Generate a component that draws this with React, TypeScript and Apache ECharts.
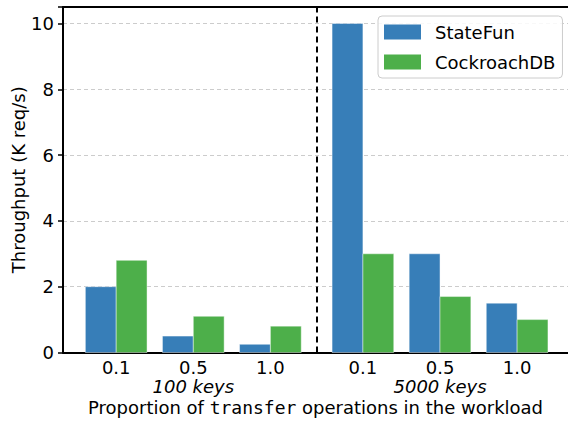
import React, { useEffect, useRef } from "react";
import * as echarts from "echarts";

const positions = [0, 1, 2, 3.2, 4.2, 5.2];
const tickLabels = ["0.1", "0.5", "1.0", "0.1", "0.5", "1.0"];
const groupLabels = ["", "100 keys", "", "", "5000 keys", ""];
const stateFun = [2.0, 0.5, 0.25, 10.0, 3.0, 1.5];
const cockroach = [2.8, 1.1, 0.8, 3.0, 1.7, 1.0];
const seriesNames = ["StateFun", "CockroachDB"];
const seriesColors = ["#377eb8", "#4daf4a"];
const separatorX = 2.6;
const barW = 0.4;

export default function App() {
  const ref = useRef<HTMLDivElement>(null);
  useEffect(() => {
    if (!ref.current) return;
    const chart = echarts.init(ref.current, null, { renderer: "svg" });
    const font = "DejaVu Sans";
    const fs = 18;
    const labelFor = (v: number) => {
      let best = 0;
      positions.forEach((p, i) => {
        if (Math.abs(p - v) < Math.abs(positions[best] - v)) best = i;
      });
      const g = groupLabels[best];
      return g ? `${tickLabels[best]}\n{it|${g}}` : tickLabels[best];
    };
    const makeBars = (name: string, values: number[], color: string, offset: number) => ({
      name,
      type: "custom",
      xAxisIndex: 0,
      itemStyle: { color },
      encode: { x: 0, y: 1 },
      data: positions.map((p, i) => [p, values[i]]),
      renderItem: (_params: any, api: any) => {
        const x = api.value(0);
        const y = api.value(1);
        const tl = api.coord([x + offset, y]);
        const br = api.coord([x + offset + barW, 0]);
        return {
          type: "rect",
          shape: { x: tl[0], y: tl[1], width: br[0] - tl[0], height: br[1] - tl[1] },
          style: { fill: color, stroke: "rgba(255,255,255,0.55)", lineWidth: 0.8 },
        };
      },
    });
    chart.setOption({
      animation: false,
      textStyle: { fontFamily: font },
      grid: { left: 63, right: 0, top: 7, bottom: 70.5, containLabel: false, outerBoundsMode: "none" },
      legend: {
        orient: "vertical",
        left: 378,
        top: 16,
        padding: [7, 7, 7, 6],
        itemWidth: 37,
        itemHeight: 15,
        itemGap: 12,
        borderColor: "#cccccc",
        borderWidth: 1,
        borderRadius: 4,
        backgroundColor: "rgba(255,255,255,0.85)",
        icon: "rect",
        textStyle: { fontSize: fs, color: "#000", fontFamily: font, padding: [0, 0, 0, 9], lineHeight: 15 },
        data: seriesNames.map((n, i) => ({ name: n, itemStyle: { color: seriesColors[i] } })),
      },
      xAxis: [
        {
          type: "value",
          min: -0.69,
          max: 5.86,
          axisLine: { show: true, onZero: false, lineStyle: { color: "#000", width: 2 } },
          axisTick: { show: false },
          splitLine: { show: false },
          axisLabel: {
            customValues: positions,
            formatter: (v: number) => labelFor(v),
            fontSize: fs,
            color: "#000",
            lineHeight: 19,
            margin: 5,
            fontFamily: font,
            rich: {
              it: { fontStyle: "italic", fontSize: fs, color: "#000", lineHeight: 19, fontFamily: font },
            },
          },
          name: "Proportion of {mono|transfer} operations in the workload",
          nameLocation: "middle",
          nameGap: 46,
          nameMoveOverlap: false,
          nameTextStyle: {
            fontSize: fs,
            color: "#000",
            fontFamily: font,
            rich: { mono: { fontFamily: "DejaVu Sans Mono", fontSize: fs, color: "#000" } },
          },
        },
        {
          type: "value",
          position: "top",
          min: -0.69,
          max: 5.86,
          axisLine: { show: true, onZero: false, lineStyle: { color: "#000", width: 2 } },
          axisTick: { show: false },
          axisLabel: { show: false },
          splitLine: { show: false },
        },
      ],
      yAxis: {
        type: "value",
        min: 0,
        max: 10.5,
        interval: 2,
        axisLine: { show: true, onZero: false, lineStyle: { color: "#000", width: 2 } },
        axisTick: { show: true, length: 5, lineStyle: { color: "#000", width: 1.5 } },
        axisLabel: {
          fontSize: fs,
          color: "#000",
          margin: 9,
          fontFamily: font,
          formatter: (v: number) => (v % 2 === 0 ? String(v) : ""),
        },
        splitLine: { show: true, lineStyle: { color: "#cccccc", type: [4, 3], width: 1 } },
        name: "Throughput (K req/s)",
        nameLocation: "middle",
        nameGap: 36,
        nameMoveOverlap: false,
        nameTextStyle: { fontSize: fs, color: "#000", fontFamily: font },
      },
      series: [
        makeBars(seriesNames[0], stateFun, seriesColors[0], -barW),
        makeBars(seriesNames[1], cockroach, seriesColors[1], 0),
        {
          name: "separator",
          type: "line",
          xAxisIndex: 0,
          data: [],
          silent: true,
          markLine: {
            silent: true,
            symbol: ["none", "none"],
            label: { show: false },
            lineStyle: { color: "#000", type: [6, 4], width: 2 },
            data: [{ xAxis: separatorX }],
          },
        },
      ],
    });
    return () => chart.dispose();
  }, []);
  return (
    <div
      ref={ref}
      style={{ position: "fixed", left: 0, top: 0, width: 568, height: 423, background: "#fff" }}
    />
  );
}
